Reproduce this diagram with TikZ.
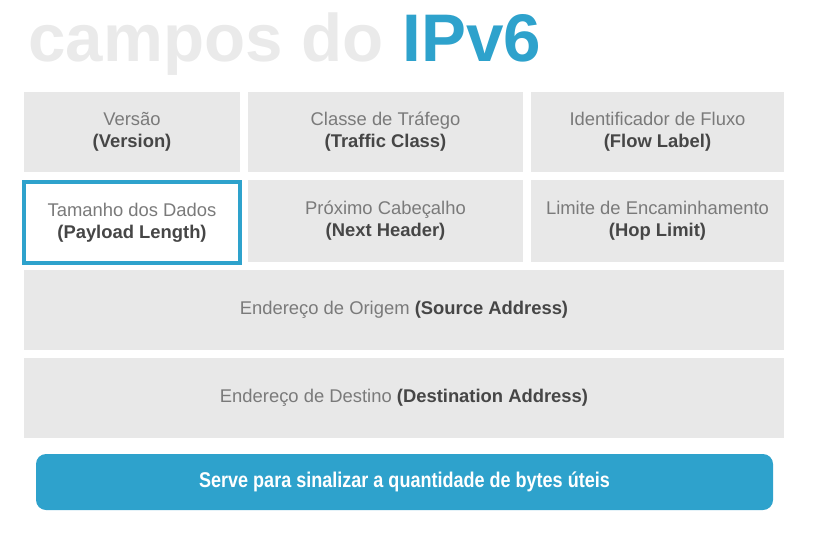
\documentclass[tikz,border=0pt]{standalone}
\usepackage{fontspec}
\setmainfont{Liberation Sans}
\newfontfamily\condfont[FakeStretch=0.845]{Liberation Sans}
\definecolor{fieldgray}{HTML}{E8E8E8}
\definecolor{titlegray}{HTML}{EAEAEA}
\definecolor{ipblue}{HTML}{2EA2CC}
\definecolor{lighttext}{HTML}{7A7A7A}
\definecolor{darktext}{HTML}{464646}
\newcommand{\fieldtext}[2]{{\color{lighttext}#1}\\{\color{darktext}\bfseries(#2)}}
\tikzset{
  field/.style={fill=fieldgray, inner sep=0pt, align=center, font=\fontsize{13.8}{16.5}\selectfont,
    minimum height=80*0.75pt},
  picked/.style={field, fill=white, draw=ipblue, line width=3pt}
}
\begin{document}
\begin{tikzpicture}[x=0.75pt,y=-0.75pt]
  \useasboundingbox (0,0) rectangle (813,542);
  % title
  \node[anchor=base west, inner sep=0pt, font=\fontsize{50.5}{50.5}\selectfont\bfseries]
    (title) at (28,62) {\color{titlegray}campos do \color{ipblue}IPv6};
  % first row
  \node[field, minimum width=216*0.75pt] (version) at (132,132) {\fieldtext{Versão}{Version}};
  \node[field, minimum width=275*0.75pt] (class) at (385.5,132) {\fieldtext{Classe de Tráfego}{Traffic Class}};
  \node[field, minimum width=253*0.75pt] (flow) at (657.5,132) {\fieldtext{Identificador de Fluxo}{Flow Label}};
  % second row
  \node[picked, minimum width=216*0.75pt, minimum height=81*0.75pt] (payload) at (132,222.5) {\fieldtext{Tamanho dos Dados}{Payload Length}};
  \node[field, minimum width=275*0.75pt, minimum height=82*0.75pt] (next) at (385.5,221) {\fieldtext{Próximo Cabeçalho}{Next Header}};
  \node[field, minimum width=253*0.75pt, minimum height=82*0.75pt] (hop) at (657.5,221) {\fieldtext{Limite de Encaminhamento}{Hop Limit}};
  % addresses
  \node[field, minimum width=760*0.75pt] (source) at (404,310)
    {{\color{lighttext}Endereço de Origem} {\color{darktext}\bfseries(Source Address)}};
  \node[field, minimum width=760*0.75pt] (dest) at (404,398)
    {{\color{lighttext}Endereço de Destino} {\color{darktext}\bfseries(Destination Address)}};
  % note
  \node[fill=ipblue, rounded corners=7.5pt, minimum width=737*0.75pt, minimum height=56*0.75pt,
    text=white, font=\condfont\fontsize{16}{16}\selectfont\bfseries] (note) at (404.5,482)
    {Serve para sinalizar a quantidade de bytes úteis};
\end{tikzpicture}
\end{document}
